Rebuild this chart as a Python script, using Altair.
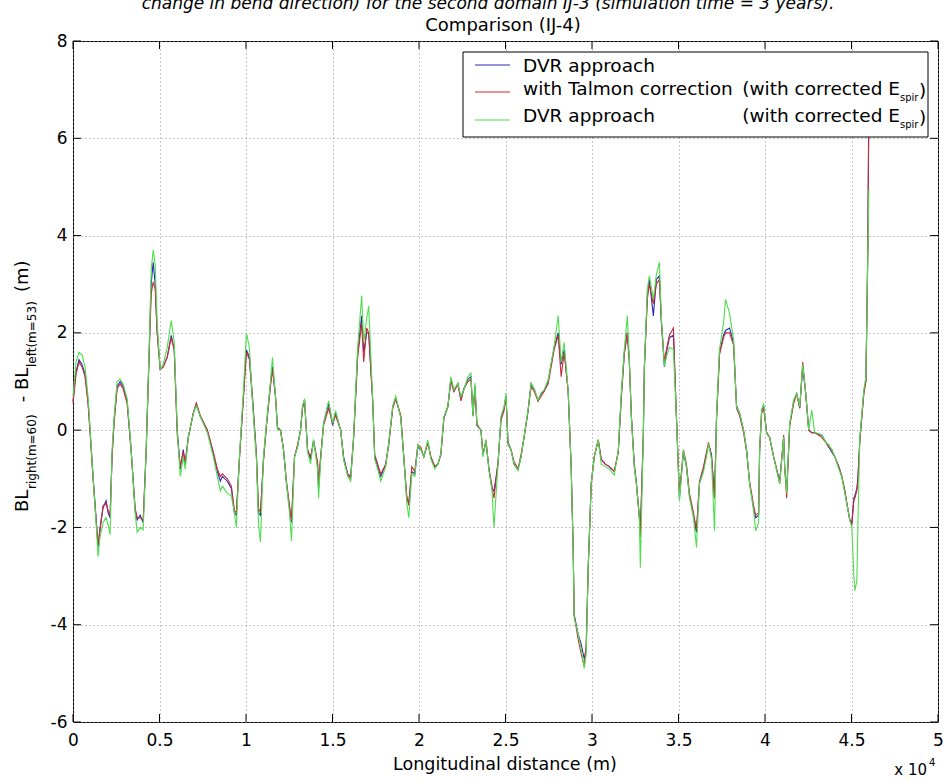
import altair as alt
import pandas as pd

# ---------------------------------------------------------------- data
# Longitudinal distance along the reach (m)
distance_m = [
    0, 174, 348, 521, 695, 869, 985, 1159, 1333, 1449,
    1564, 1738, 1912, 2028, 2144, 2260, 2376, 2549, 2723, 2897,
    3129, 3361, 3592, 3708, 3882, 4056, 4230, 4403, 4519, 4635,
    4751, 4867, 5041, 5215, 5446, 5678, 5852, 6026, 6200, 6373,
    6489, 6663, 6953, 7127, 7358, 7764, 8112, 8343, 8517, 8633,
    8923, 9155, 9328, 9444, 9618, 9850, 10024, 10197, 10371, 10603,
    10719, 10835, 11009, 11182, 11414, 11530, 11704, 11820, 11994, 12167,
    12341, 12515, 12631,
    12805, 12979, 13152, 13268, 13384, 13558, 13732, 13906,
    14137, 14195, 14311, 14485, 14775, 15006, 15180, 15470, 15644, 15876,
    16049, 16223, 16455, 16687, 16803, 16976, 17092, 17324, 17440, 17614,
    17788, 18077, 18251, 18483, 18657, 18946, 19120, 19294, 19410, 19584,
    19758, 19931, 20105, 20279, 20511, 20685, 20916, 21090, 21264, 21438,
    21670, 21843, 22017, 22249, 22423, 22597, 22828, 23002, 23118, 23234,
    23350, 23582, 23697, 23871, 24045, 24219, 24335, 24567, 24740, 24914,
    25030, 25146, 25320, 25494, 25725, 25899, 26073, 26305, 26479, 26652,
    26884, 27058, 27232, 27464, 27637, 27811, 28043, 28217, 28391, 28622,
    28796, 28912, 28970, 29202, 29376, 29549, 29665, 29781, 29955, 30129,
    30361, 30534, 30766, 30998, 31288, 31519, 31693, 31867, 32041, 32157,
    32273, 32446, 32562, 32736, 32794, 32968, 33026, 33200, 33316, 33547,
    33721, 33895, 34011, 34185, 34300, 34474, 34706, 34880, 35054, 35285,
    35459, 35633, 35865, 36039, 36213, 36444, 36618, 36734, 36908, 37082,
    37197, 37371, 37603, 37719, 37951, 38182, 38356, 38530, 38762, 38936,
    39110, 39341, 39457, 39631, 39689, 39805, 39921, 40094, 40268, 40500,
    40674, 40848, 41079, 41137, 41253, 41427, 41659, 41833, 42007, 42180,
    42354, 42528, 42702, 42876, 43107, 43281, 43513, 43687, 43861, 44034,
    44266, 44440, 44614, 44730, 44904, 45019, 45135, 45193, 45309, 45367,
    45483, 45715, 45831, 45888, 45946, 46004,
]

# BL_right(m=60) - BL_left(m=53) (m), DVR approach
dvr = [
    0.60, 1.20, 1.45, 1.35, 1.15, 0.60, 0.00, -0.95, -1.80, -2.40,
    -2.00, -1.60, -1.45, -1.70, -1.80, -0.50, 0.20, 0.90, 1.00, 0.90,
    0.60, -0.40, -1.65, -1.85, -1.75, -1.90, -0.40, 1.60, 3.00, 3.45,
    3.00, 2.00, 1.25, 1.30, 1.50, 1.95, 1.65, 0.00, -0.80, -0.40,
    -0.70, -0.15, 0.35, 0.55, 0.28, 0.00, -0.48, -0.85, -1.05, -0.95,
    -1.05, -1.20, -1.70, -1.75, -0.60, 0.70, 1.65, 1.50, 0.70, -0.50,
    -1.70, -1.75, -0.60, 0.10, 0.95, 1.30, 0.70, 0.05, 0.00, -0.40,
    -1.10, -1.60, -1.90,
    -0.55, -0.34, 0.00, 0.48, 0.62, -0.40, -0.60, -0.20,
    -0.70, -1.20, -0.60, 0.14, 0.55, 0.10, 0.35, 0.00, -0.55, -0.90,
    -0.95, -0.14, 1.60, 2.35, 1.60, 2.00, 2.00, 0.60, -0.55, -0.75,
    -0.95, -0.70, -0.28, 0.48, 0.65, 0.28, -0.55, -1.40, -1.50, -0.85,
    -0.90, -0.35, -0.40, -0.55, -0.25, -0.55, -0.75, -0.70, -0.50, 0.25,
    0.48, 1.05, 0.80, 0.95, 0.65, 0.85, 1.05, 1.10, 0.30, 0.90,
    0.10, 0.00, -0.50, -0.25, -0.80, -1.20, -1.25, -0.70, 0.25, 0.45,
    0.70, -0.25, -0.40, -0.70, -0.80, -0.55, -0.15, 0.40, 0.95, 0.85,
    0.60, 0.75, 0.80, 1.00, 1.35, 1.70, 2.00, 1.35, 1.65, 0.80,
    -0.75, -2.45, -3.80, -4.20, -4.40, -4.70, -4.50, -2.80, -1.10, -0.55,
    -0.20, -0.60, -0.70, -0.75, -0.85, -0.45, 0.70, 1.60, 2.00, 1.40,
    0.30, -0.70, -1.05, -1.80, -2.10, -0.10, 1.25, 2.80, 3.10, 2.35,
    3.10, 3.17, 2.20, 1.30, 1.60, 1.90, 1.95, 0.30, -1.40, -0.45,
    -0.75, -1.35, -1.75, -2.10, -1.10, -0.80, -0.50, -0.30, -0.50, -1.40,
    0.25, 1.60, 1.95, 2.05, 2.10, 1.80, 0.50, 0.35, 0.00, -0.40,
    -1.10, -1.60, -1.80, -1.75, -0.45, 0.40, 0.50, -0.05, -0.15, -0.55,
    -0.80, -1.05, -0.15, -0.75, -1.25, 0.10, 0.60, 0.75, 0.45, 1.30,
    0.75, 0.00, -0.05, -0.05, -0.10, -0.10, -0.25, -0.35, -0.45, -0.55,
    -0.75, -0.95, -1.25, -1.50, -1.85, -1.90, -1.40, -1.35, -1.20, -1.00,
    -0.20, 0.80, 1.00, 2.30, 3.80, 6.80,
]

# DVR approach with Talmon correction (corrected E_spir)
talmon = [
    0.55, 1.15, 1.40, 1.30, 1.10, 0.55, -0.05, -1.00, -1.85, -2.35,
    -2.05, -1.55, -1.50, -1.65, -1.75, -0.55, 0.15, 0.85, 0.95, 0.85,
    0.55, -0.45, -1.60, -1.80, -1.80, -1.85, -0.45, 1.55, 2.80, 3.05,
    2.90, 2.00, 1.25, 1.30, 1.50, 1.90, 1.65, -0.10, -0.75, -0.45,
    -0.65, -0.15, 0.35, 0.55, 0.30, 0.00, -0.45, -0.80, -0.95, -0.90,
    -1.00, -1.15, -1.65, -1.70, -0.60, 0.65, 1.60, 1.45, 0.65, -0.55,
    -1.60, -1.70, -0.65, 0.10, 0.90, 1.25, 0.70, 0.05, 0.00, -0.40,
    -1.05, -1.55, -1.85,
    -0.55, -0.30, 0.00, 0.45, 0.60, -0.40, -0.55, -0.25,
    -0.65, -1.10, -0.55, 0.10, 0.45, 0.15, 0.30, 0.00, -0.60, -0.90,
    -1.00, -0.15, 1.50, 2.20, 1.40, 2.10, 2.00, 0.60, -0.50, -0.70,
    -0.90, -0.70, -0.30, 0.45, 0.65, 0.30, -0.55, -1.35, -1.55, -0.75,
    -0.85, -0.30, -0.35, -0.55, -0.25, -0.55, -0.75, -0.70, -0.50, 0.25,
    0.50, 1.00, 0.80, 0.95, 0.60, 0.85, 1.00, 1.05, 0.30, 0.85,
    0.10, 0.00, -0.50, -0.20, -0.80, -1.15, -1.40, -0.65, 0.20, 0.40,
    0.70, -0.30, -0.40, -0.65, -0.80, -0.50, -0.15, 0.40, 0.90, 0.80,
    0.60, 0.70, 0.80, 0.95, 1.30, 1.65, 1.95, 1.10, 1.60, 0.80,
    -0.75, -2.40, -3.80, -4.30, -4.60, -4.85, -4.40, -2.85, -1.10, -0.55,
    -0.20, -0.60, -0.70, -0.75, -0.85, -0.45, 0.65, 1.55, 2.00, 1.45,
    0.30, -0.75, -1.10, -1.75, -2.20, -0.05, 1.30, 2.70, 3.00, 2.60,
    3.00, 3.10, 2.25, 1.40, 1.65, 1.95, 2.10, 0.25, -1.30, -0.40,
    -0.70, -1.30, -1.70, -2.05, -1.05, -0.75, -0.45, -0.25, -0.55, -1.40,
    0.20, 1.55, 1.90, 2.00, 2.00, 1.75, 0.45, 0.30, -0.05, -0.45,
    -1.05, -1.55, -1.75, -1.70, -0.40, 0.35, 0.45, -0.05, -0.15, -0.55,
    -0.80, -1.10, -0.10, -0.75, -1.40, 0.10, 0.55, 0.75, 0.45, 1.40,
    0.75, 0.00, -0.05, -0.05, -0.10, -0.15, -0.25, -0.35, -0.40, -0.55,
    -0.75, -0.95, -1.25, -1.50, -1.85, -1.95, -1.45, -1.40, -1.25, -1.05,
    -0.20, 0.75, 1.00, 2.30, 3.80, 6.80,
]

# DVR approach (corrected E_spir)
dvr_espir = [
    0.70, 1.40, 1.60, 1.55, 1.30, 0.70, 0.05, -0.95, -1.90, -2.60,
    -2.20, -1.90, -1.80, -1.95, -2.15, -0.40, 0.25, 1.00, 1.05, 0.95,
    0.65, -0.40, -1.70, -2.10, -2.00, -2.05, -0.40, 1.70, 3.30, 3.70,
    3.40, 2.20, 1.25, 1.35, 1.70, 2.25, 1.80, 0.00, -0.95, -0.55,
    -0.80, -0.15, 0.35, 0.50, 0.28, -0.05, -0.55, -0.95, -1.25, -1.15,
    -1.30, -1.35, -1.70, -2.00, -0.55, 0.80, 2.00, 1.70, 0.60, -0.60,
    -1.90, -2.30, -0.55, 0.14, 1.00, 1.50, 0.70, 0.00, 0.00, -0.40,
    -1.10, -1.70, -2.28,
    -0.55, -0.35, 0.00, 0.50, 0.65, -0.45, -0.70, -0.20,
    -0.80, -1.40, -0.65, 0.15, 0.60, 0.15, 0.40, 0.00, -0.60, -0.95,
    -1.05, -0.10, 1.70, 2.76, 1.80, 2.30, 2.55, 0.65, -0.60, -0.80,
    -1.05, -0.75, -0.25, 0.50, 0.70, 0.25, -0.55, -1.50, -1.80, -0.90,
    -0.95, -0.30, -0.40, -0.55, -0.20, -0.60, -0.80, -0.70, -0.48, 0.28,
    0.48, 1.10, 0.83, 0.97, 0.69, 0.83, 1.10, 1.17, 0.28, 0.97,
    0.14, 0.00, -0.55, -0.20, -0.83, -1.24, -2.00, -0.70, 0.28, 0.48,
    0.76, -0.28, -0.41, -0.70, -0.83, -0.55, -0.14, 0.41, 0.97, 0.85,
    0.62, 0.76, 0.83, 1.03, 1.38, 1.72, 2.35, 1.40, 1.80, 0.83,
    -0.76, -2.48, -3.86, -4.20, -4.50, -4.90, -4.60, -2.83, -1.10, -0.55,
    -0.20, -0.70, -0.75, -0.80, -0.92, -0.41, 0.76, 1.66, 2.35, 1.45,
    0.28, -0.76, -1.10, -1.80, -2.83, -0.07, 1.31, 2.90, 3.17, 2.70,
    3.20, 3.45, 2.30, 1.31, 1.50, 1.70, 1.66, 0.28, -1.45, -0.41,
    -0.76, -1.38, -1.80, -2.41, -1.10, -0.85, -0.55, -0.28, -0.60, -2.07,
    0.28, 1.66, 2.20, 2.69, 2.40, 1.86, 0.48, 0.35, 0.00, -0.41,
    -1.10, -1.65, -2.07, -1.90, -0.41, 0.41, 0.55, -0.07, -0.14, -0.55,
    -0.83, -1.10, -0.14, -0.76, -1.30, 0.14, 0.62, 0.76, 0.48, 1.35,
    0.76, 0.00, 0.41, -0.05, -0.07, -0.10, -0.25, -0.30, -0.40, -0.55,
    -0.80, -0.97, -1.30, -1.52, -1.86, -2.00, -3.00, -3.30, -3.10, -2.00,
    -0.14, 0.83, 1.10, 2.35, 3.70, 4.95,
]

x_ticks = [0, 5000, 10000, 15000, 20000, 25000, 30000, 35000, 40000, 45000, 50000]
y_ticks = [-6, -4, -2, 0, 2, 4, 6, 8]

series_colors = ["#2a2ab4", "#cc2a36", "#4ede4e"]

# ---------------------------------------------------------------- layout
W, H = 865, 681          # plot area
L, T = 73, 41            # page offset of the plot area
FONT = "DejaVu Sans"

xs = alt.Scale(domain=[0, 50000], nice=False, zero=False)
ys = alt.Scale(domain=[-6, 8], nice=False, zero=False)

# the same axis definition is given to every layer that shares a scale
x_axis = alt.Axis(
    values=x_ticks, labelExpr="'' + datum.value / 10000", title=None,
    grid=True, gridDash=[1, 3], gridColor="#8c8c8c", gridWidth=1,
    ticks=False, domain=False, labelFont=FONT, labelFontSize=17,
    labelColor="black", labelPadding=10, labelFlush=False, labelOverlap=False,
)
y_axis = alt.Axis(
    values=y_ticks, labelExpr="'' + datum.value", title=None,
    grid=True, gridDash=[1, 3], gridColor="#8c8c8c", gridWidth=1,
    ticks=False, domain=False, labelFont=FONT, labelFontSize=17,
    labelColor="black", labelPadding=6, labelFlush=False, labelOverlap=False,
)


def X(field):
    return alt.X(field, scale=xs, axis=x_axis)


def Y(field):
    return alt.Y(field, scale=ys, axis=y_axis)


def series_layer(values, color):
    df = pd.DataFrame({"x": distance_m, "y": values})
    return alt.Chart(df).mark_line(color=color, strokeWidth=1.1).encode(
        x=X("x:Q"), y=Y("y:Q"),
    )


def text(s, x, y, size, align="left", angle=0, style="normal"):
    return alt.Chart(pd.DataFrame({"s": [s]})).mark_text(
        align=align, baseline="alphabetic", font=FONT, fontSize=size,
        fontStyle=style, angle=angle, color="black",
    ).encode(text="s:N", x=alt.value(x - L), y=alt.value(y - T))


def legend_line(color, y):
    return alt.Chart(pd.DataFrame({"c": [color]})).mark_rule(
        color=color, strokeWidth=1.1
    ).encode(x=alt.value(475 - L), x2=alt.value(510 - L), y=alt.value(y - T))


# inward ticks on all four sides of the box
xt = pd.DataFrame({"t": x_ticks})
yt = pd.DataFrame({"t": y_ticks})
ticks = [
    alt.Chart(xt).mark_rule(color="black", strokeWidth=1).encode(
        x=X("t:Q"), y=alt.value(H), y2=alt.value(H - 8)),
    alt.Chart(xt).mark_rule(color="black", strokeWidth=1).encode(
        x=X("t:Q"), y=alt.value(0), y2=alt.value(8)),
    alt.Chart(yt).mark_rule(color="black", strokeWidth=1).encode(
        y=Y("t:Q"), x=alt.value(0), x2=alt.value(8)),
    alt.Chart(yt).mark_rule(color="black", strokeWidth=1).encode(
        y=Y("t:Q"), x=alt.value(W), x2=alt.value(W - 8)),
]

lines = [
    series_layer(dvr, series_colors[0]),
    series_layer(talmon, series_colors[1]),
    series_layer(dvr_espir, series_colors[2]),
]

legend_box = alt.Chart(pd.DataFrame({"b": [0]})).mark_rect(
    fill="white", stroke="black", strokeWidth=1
).encode(x=alt.value(463 - L), x2=alt.value(928 - L), y=alt.value(52 - T), y2=alt.value(137 - T))

legend = [
    legend_box,
    legend_line(series_colors[0], 65),
    legend_line(series_colors[1], 92),
    legend_line(series_colors[2], 120),
    text("DVR approach", 523, 72, 18.5),
    text("with Talmon correction", 523, 95, 18.5),
    text("(with corrected E", 900, 95, 18.5, align="right"),
    text("spir", 900, 101, 10),
    text(")", 919, 97, 18.5),
    text("DVR approach", 523, 122, 18.5),
    text("(with corrected E", 900, 122, 18.5, align="right"),
    text("spir", 900, 128, 10),
    text(")", 919, 124, 18.5),
]

labels = [
    text("change in bend direction) for the second domain IJ-3 (simulation time = 3 years).",
         488, 9, 17, align="center", style="italic"),
    text("Comparison (IJ-4)", 503, 31, 18, align="center"),
    text("Longitudinal distance (m)", 505, 770, 17.5, align="center"),
    text("x 10", 927, 775, 15, align="right"),
    text("4", 929, 766, 10),
    # rotated y-axis title with subscripts
    text("BL", 28, 512, 18, angle=270),
    text("right(m=60)", 36, 489, 12, angle=270),
    text("-", 28, 399, 18, align="center", angle=270),
    text("BL", 28, 390, 18, angle=270),
    text("left(m=53)", 36, 367, 12, angle=270),
    text("(m)", 28, 292, 18, angle=270),
]

chart = alt.layer(*lines, *ticks, *legend, *labels).properties(
    width=W, height=H,
    autosize=alt.AutoSizeParams(type="none"),
    padding={"left": L, "top": T, "right": 943 - L - W, "bottom": 781 - T - H},
    background="white",
).configure_view(stroke="black", strokeWidth=1)

chart.save("out.html", embed_options={"renderer": "svg", "actions": False})
